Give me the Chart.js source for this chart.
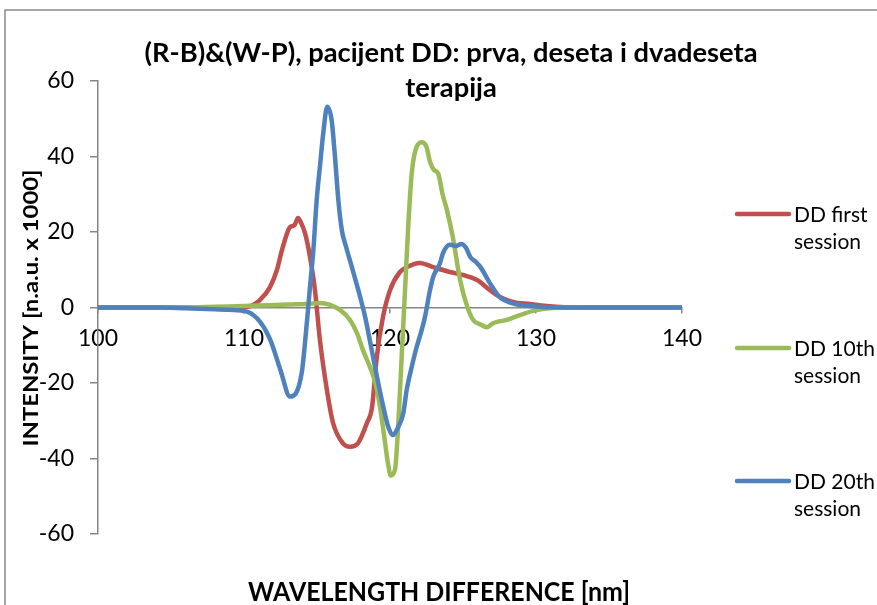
<!DOCTYPE html>
<html>
<head>
<meta charset="utf-8">
<script src="https://cdn.jsdelivr.net/npm/chart.js@4/dist/chart.umd.min.js"></script>
<style>
  html, body { margin: 0; padding: 0; background: #ffffff; }
  #wrap { position: relative; width: 877px; height: 605px; }
</style>
</head>
<body>
<div id="wrap"><canvas id="c" width="877" height="605"></canvas></div>
<script>
// Wavelength difference [nm] and intensity [n.a.u. x 1000] for each session
const firstX = [100, 105, 109.5, 110.4, 111.1, 111.78, 112.26, 112.6, 113.15, 113.45, 113.7, 113.9, 114.18, 114.52, 114.86, 115.2, 115.68, 116.1, 116.78, 117.26, 117.8, 118.42, 118.77, 119.1, 119.52, 120.0, 120.68, 121.16, 122.05, 122.95, 124.1, 125.0, 125.96, 126.85, 127.53, 128.42, 129.6, 130.75, 133, 140];
const firstY = [0, 0, 0, 0.3, 2, 5.4, 10, 15.2, 21.3, 21.8, 23.7, 22.5, 19.7, 13.4, 4.6, -8.6, -21.9, -30.6, -36, -36.9, -36, -30.6, -26.4, -13, -2.5, 4.6, 9.4, 10.7, 11.8, 10.7, 9.4, 8.6, 7.3, 4.6, 2.8, 1.5, 0.9, 0.4, 0, 0];

const tenthX = [100, 106, 108, 111, 113, 114.5, 115.2, 115.9, 116.6, 117.26, 117.74, 118.15, 118.63, 119.0, 119.3, 119.6, 119.85, 120.05, 120.34, 120.57, 120.8, 121.03, 121.26, 121.49, 121.83, 122.2, 122.5, 122.75, 123.0, 123.3, 123.6, 123.9, 124.3, 124.8, 125.3, 125.7, 126.2, 126.65, 127.0, 127.33, 128.0, 128.9, 130.0, 131.1, 133, 140];
const tenthY = [0, 0, 0.2, 0.5, 0.8, 1.0, 1.2, 0.7, -0.7, -3.3, -6.8, -11.3, -15.8, -20, -26, -34, -41, -44.5, -43, -30.7, -13, 4.6, 22.3, 35.6, 42.6, 43.8, 42.5, 38.5, 36.5, 35.5, 30, 25.8, 18.7, 7.3, 0.1, -3.3, -4.5, -5.2, -4.3, -3.8, -3.3, -2, -0.7, -0.1, 0, 0];

const twentiethX = [100, 104, 106, 107.5, 109, 110.2, 111.1, 111.8, 112.5, 113.15, 113.95, 114.3, 114.5, 114.75, 114.98, 115.2, 115.43, 115.7, 116.0, 116.23, 116.46, 116.7, 116.99, 117.38, 117.83, 118.29, 118.75, 119.2, 119.54, 119.88, 120.18, 120.57, 120.91, 121.14, 121.49, 121.83, 122.17, 122.4, 122.74, 122.97, 123.42, 123.63, 124.1, 124.5, 124.9, 125.2, 125.5, 125.9, 126.2, 126.85, 127.5, 128.4, 129.6, 131.6, 140];
const twentiethY = [0, 0, -0.2, -0.4, -0.6, -1.1, -3.8, -8.6, -16.6, -23.6, -17.4, -4.2, 4.6, 15.2, 28.5, 37.3, 46.2, 53.2, 49.7, 40, 28.5, 20.5, 16.1, 10.8, 4.6, -2.4, -11.3, -20.1, -26.3, -31.6, -33.8, -31.6, -28, -21.9, -15.7, -10.4, -6, -2.4, 4.6, 8.2, 11.7, 14.4, 16.6, 16.3, 16.8, 15.8, 13.4, 12, 10.7, 6.4, 2.8, 1.1, 0.4, 0, 0];

const seriesNames = [['DD first', 'session'], ['DD 10th', 'session'], ['DD 20th', 'session']];
const seriesColors = ['#C0504D', '#9BBB59', '#4F81BD'];

const titleLines = ['(R-B)&(W-P), pacijent DD: prva, deseta i dvadeseta', 'terapija'];
const xTitle = 'WAVELENGTH DIFFERENCE [nm]';
const yTitle = 'INTENSITY [n.a.u. x 1000]';

const FONT = 'Lato, "Open Sans", sans-serif';
const AXIS_GREY = '#868686';

function pts(xs, ys) { return xs.map((x, i) => ({ x: x, y: ys[i] })); }

const seriesData = [pts(firstX, firstY), pts(tenthX, tenthY), pts(twentiethX, twentiethY)];

const datasets = seriesData.map((d, i) => ({
  label: seriesNames[i].join(' '),
  data: d,
  borderColor: seriesColors[i],
  backgroundColor: seriesColors[i],
  borderWidth: 4.5,
  pointRadius: 0,
  fill: false,
  cubicInterpolationMode: 'monotone',
  borderCapStyle: 'round',
  borderJoinStyle: 'round',
  order: 3 - i
}));

// Text drawn centred on cx with its baseline at y, squeezed or widened horizontally by sx
function drawText(ctx, text, cx, y, sx, rotate) {
  ctx.save();
  ctx.translate(cx, y);
  if (rotate) ctx.rotate(-Math.PI / 2);
  ctx.scale(sx, 1);
  ctx.textAlign = 'center';
  ctx.textBaseline = 'alphabetic';
  ctx.fillText(text, 0, 0);
  ctx.restore();
}

// Frame, title, axis titles and legend drawn on the canvas
const decorations = {
  id: 'decorations',
  beforeDraw(chart) {
    const ctx = chart.ctx;
    ctx.save();
    ctx.fillStyle = '#ffffff';
    ctx.fillRect(0, 0, chart.width, chart.height);
    ctx.strokeStyle = '#898989';
    ctx.lineWidth = 1.5;
    ctx.beginPath();
    ctx.moveTo(5, chart.height);
    ctx.lineTo(5, 10);
    ctx.lineTo(chart.width, 10);
    ctx.stroke();
    ctx.restore();
  },
  afterDraw(chart) {
    const ctx = chart.ctx;
    const area = chart.chartArea;
    ctx.save();
    ctx.fillStyle = '#000000';

    // chart title, two lines
    ctx.font = 'bold 26px ' + FONT;
    const titleScale = 613 / ctx.measureText(titleLines[0]).width;
    drawText(ctx, titleLines[0], 451, 62, titleScale);
    drawText(ctx, titleLines[1], 451, 97, titleScale);

    // x axis title
    ctx.font = 'bold 27px ' + FONT;
    drawText(ctx, xTitle, 439, 601, 382 / ctx.measureText(xTitle).width);

    // y axis title, rotated
    ctx.font = 'bold 21px ' + FONT;
    drawText(ctx, yTitle, 37.5, 308, 277 / ctx.measureText(yTitle).width, true);

    // legend
    const rows = [214, 348, 481];
    ctx.textAlign = 'left';
    ctx.textBaseline = 'alphabetic';
    ctx.font = '21px ' + FONT;
    chart.data.datasets.forEach((ds, i) => {
      const y = rows[i];
      ctx.strokeStyle = ds.borderColor;
      ctx.lineWidth = 4.5;
      ctx.lineCap = 'round';
      ctx.beginPath();
      ctx.moveTo(737, y);
      ctx.lineTo(789, y);
      ctx.stroke();
      ctx.fillStyle = '#000000';
      seriesNames[i].forEach((line, k) => ctx.fillText(line, 794, y + 7.5 + k * 27.5));
    });
    ctx.restore();
  }
};

new Chart(document.getElementById('c'), {
  type: 'line',
  data: { datasets: datasets },
  options: {
    responsive: false,
    animation: false,
    events: [],
    layout: { padding: { top: 81, bottom: 71, left: 0, right: 195 } },
    plugins: {
      legend: { display: false },
      title: { display: false },
      tooltip: { enabled: false }
    },
    scales: {
      x: {
        type: 'linear',
        min: 100,
        max: 140,
        position: { y: 0 },
        ticks: { stepSize: 10, color: '#000000', padding: 12, font: { family: FONT, size: 23 }, maxRotation: 0 },
        grid: { drawOnChartArea: false, drawTicks: true, tickLength: 5, color: AXIS_GREY, lineWidth: 1.5 },
        border: { display: true, color: AXIS_GREY, width: 1.5 }
      },
      y: {
        type: 'linear',
        min: -60,
        max: 60,
        ticks: { stepSize: 20, color: '#000000', padding: 16, font: { family: FONT, size: 23 } },
        grid: { drawOnChartArea: false, drawTicks: true, tickLength: 8, color: AXIS_GREY, lineWidth: 1.5 },
        border: { display: true, color: AXIS_GREY, width: 1.5 },
        afterFit(scale) { scale.width = 98; }
      }
    }
  },
  plugins: [decorations]
});
</script>
</body>
</html>
